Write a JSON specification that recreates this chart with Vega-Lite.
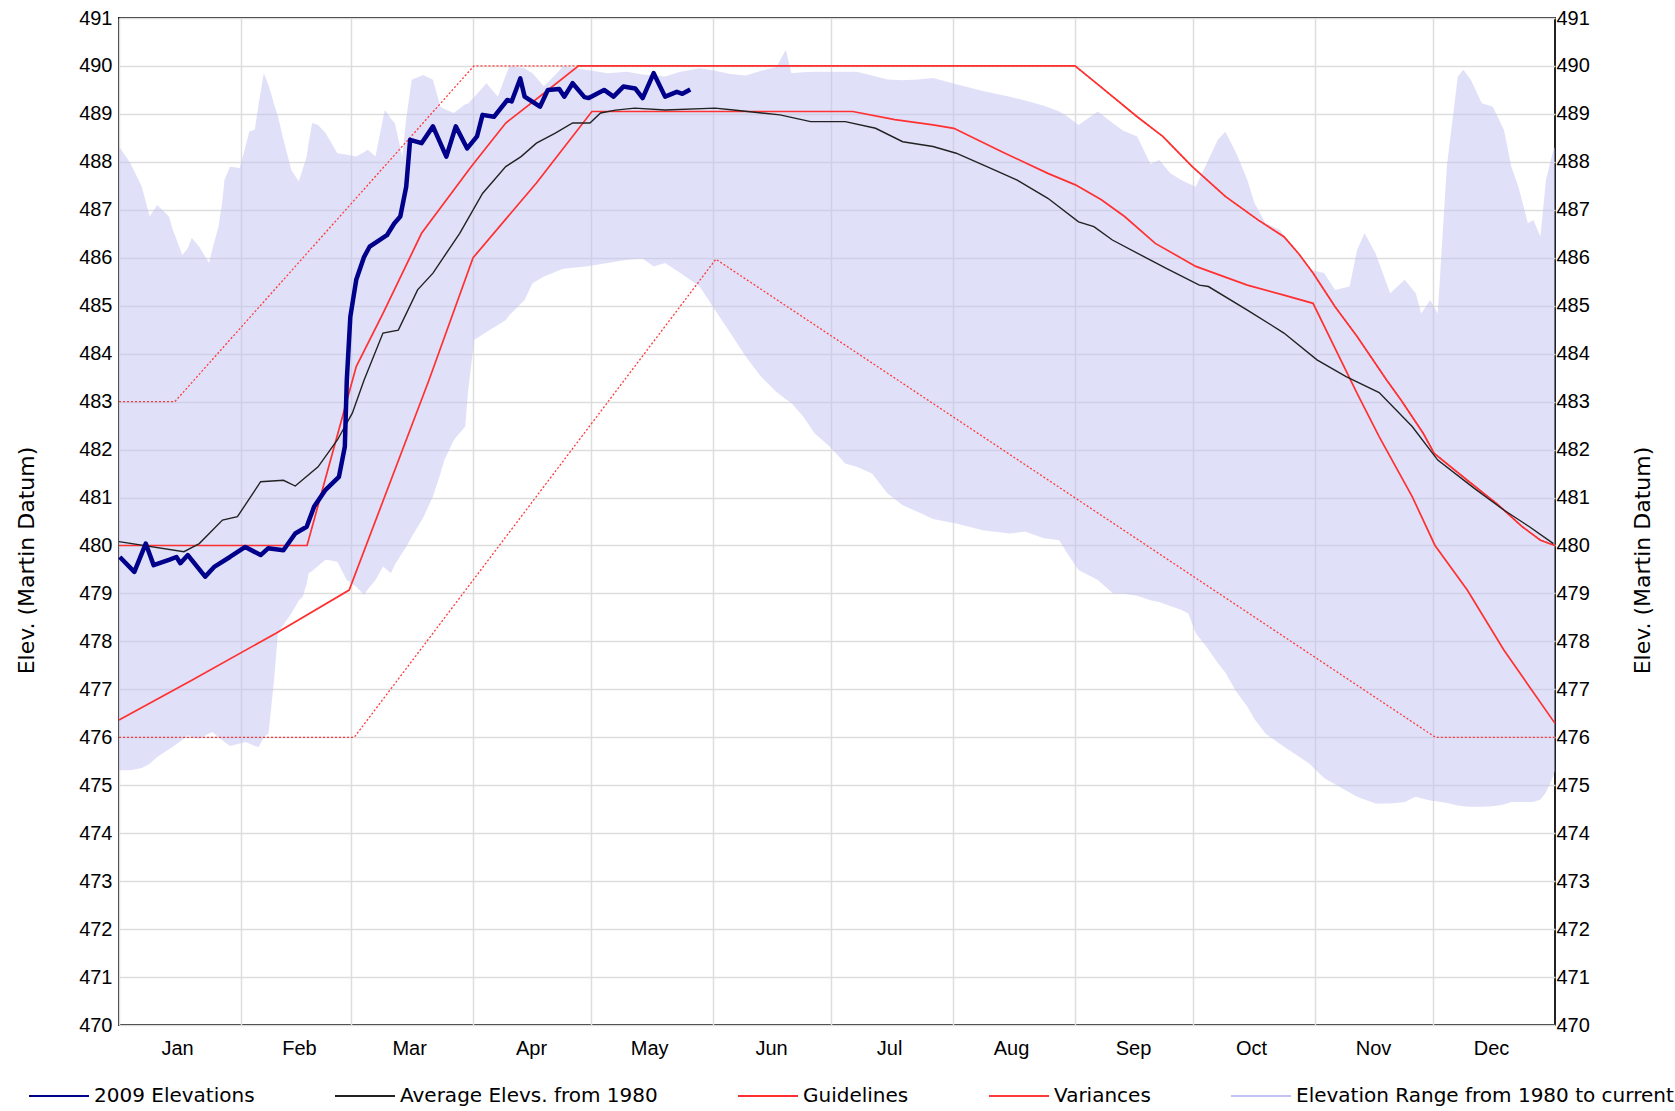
{
  "$schema": "https://vega.github.io/schema/vega-lite/v6.json",
  "width": 1436,
  "height": 1007,
  "autosize": {"type": "none"},
  "padding": {"left": 119, "top": 18, "right": 120, "bottom": 86},
  "background": "white",
  "config": {
    "view": {"stroke": "#222222", "strokeWidth": 2},
    "axis": {
      "labelFont": "Liberation Sans", "labelFontSize": 20, "labelColor": "#000000",
      "titleFont": "DejaVu Sans", "titleFontSize": 22, "titleFontWeight": "normal", "titleColor": "#000000",
      "gridColor": "#dddddd", "gridWidth": 1.5, "ticks": false, "domain": false,
      "labelFlush": false, "labelBound": false, "labelOverlap": false
    }
  },
  "datasets": {
    "range": [
      {"d":0,"lo":475.31,"hi":488.32},{"d":2.9,"lo":475.31,"hi":487.97},{"d":5.8,"lo":475.36,"hi":487.48},
      {"d":7.8,"lo":475.45,"hi":486.86},{"d":9.7,"lo":475.59,"hi":487.1},{"d":12.7,"lo":475.75,"hi":486.86},
      {"d":13.6,"lo":475.8,"hi":486.6},{"d":16.1,"lo":475.95,"hi":486.06},{"d":17.5,"lo":476.04,"hi":486.2},
      {"d":18.5,"lo":476,"hi":486.41},{"d":20.4,"lo":475.97,"hi":486.23},{"d":22.9,"lo":476.08,"hi":485.89},
      {"d":23.8,"lo":476.11,"hi":486.2},{"d":25.3,"lo":476,"hi":486.65},{"d":26.3,"lo":475.94,"hi":487.2},
      {"d":26.8,"lo":475.9,"hi":487.62},{"d":28.2,"lo":475.82,"hi":487.9},{"d":30.7,"lo":475.87,"hi":487.87},
      {"d":32.1,"lo":475.9,"hi":488.3},{"d":33.1,"lo":475.87,"hi":488.63},{"d":34.5,"lo":475.82,"hi":488.67},
      {"d":35.5,"lo":475.8,"hi":489.2},{"d":36.8,"lo":476,"hi":489.85},{"d":38,"lo":476.08,"hi":489.6},
      {"d":38.9,"lo":476.8,"hi":489.36},{"d":39.4,"lo":477.19,"hi":489.2},{"d":40.4,"lo":478.17,"hi":488.95},
      {"d":41.8,"lo":478.35,"hi":488.46},{"d":43.8,"lo":478.58,"hi":487.83},{"d":45.7,"lo":478.85,"hi":487.59},
      {"d":46.7,"lo":478.93,"hi":487.85},{"d":47.7,"lo":479.2,"hi":488.11},{"d":48.2,"lo":479.42,"hi":488.4},
      {"d":49.1,"lo":479.47,"hi":488.81},{"d":50.6,"lo":479.57,"hi":488.77},{"d":52.5,"lo":479.7,"hi":488.6},
      {"d":53.5,"lo":479.69,"hi":488.46},{"d":55.5,"lo":479.66,"hi":488.18},{"d":57.9,"lo":479.28,"hi":488.15},
      {"d":60.3,"lo":479.14,"hi":488.11},{"d":62.3,"lo":478.97,"hi":488.2},{"d":63.2,"lo":479.08,"hi":488.25},
      {"d":65.2,"lo":479.28,"hi":488.11},{"d":67.1,"lo":479.56,"hi":488.9},{"d":67.6,"lo":479.53,"hi":489.08},
      {"d":69.1,"lo":479.42,"hi":488.9},{"d":70.1,"lo":479.6,"hi":488.81},{"d":72,"lo":479.85,"hi":488.11},
      {"d":73,"lo":479.97,"hi":488.9},{"d":74.4,"lo":480.18,"hi":489.71},{"d":77.3,"lo":480.58,"hi":489.81},
      {"d":79.8,"lo":481.02,"hi":489.71},{"d":81.7,"lo":481.5,"hi":489.15},{"d":82.7,"lo":481.78,"hi":489.1},
      {"d":85.1,"lo":482.2,"hi":489.02},{"d":88,"lo":482.48,"hi":489.2},{"d":88.7,"lo":483.2,"hi":489.21},
      {"d":90.3,"lo":484.29,"hi":489.35},{"d":93.4,"lo":484.45,"hi":489.64},{"d":96.3,"lo":484.6,"hi":489.36},
      {"d":98.3,"lo":484.7,"hi":489.8},{"d":99.2,"lo":484.8,"hi":489.99},{"d":103.1,"lo":485.12,"hi":489.95},
      {"d":105.1,"lo":485.47,"hi":489.85},{"d":108,"lo":485.61,"hi":489.57},{"d":112.9,"lo":485.77,"hi":489.99},
      {"d":118.7,"lo":485.82,"hi":489.92},{"d":124.2,"lo":485.89,"hi":489.85},{"d":129.1,"lo":485.96,"hi":489.88},
      {"d":133,"lo":485.99,"hi":489.82},{"d":135.9,"lo":485.82,"hi":489.8},{"d":138.8,"lo":485.89,"hi":489.78},
      {"d":142.7,"lo":485.68,"hi":489.88},{"d":147.6,"lo":485.4,"hi":489.95},{"d":151.5,"lo":484.91,"hi":489.9},
      {"d":155.4,"lo":484.43,"hi":489.83},{"d":159.3,"lo":483.94,"hi":489.8},{"d":163.2,"lo":483.52,"hi":489.9},
      {"d":167.1,"lo":483.2,"hi":489.98},{"d":169.5,"lo":483.05,"hi":490.34},{"d":170.9,"lo":482.97,"hi":489.85},
      {"d":173.9,"lo":482.69,"hi":489.87},{"d":176.8,"lo":482.34,"hi":489.88},{"d":180.7,"lo":482.06,"hi":489.88},
      {"d":184.6,"lo":481.71,"hi":489.88},{"d":187.5,"lo":481.64,"hi":489.88},{"d":191.4,"lo":481.5,"hi":489.8},
      {"d":195.3,"lo":481.09,"hi":489.72},{"d":199.2,"lo":480.84,"hi":489.7},{"d":203.1,"lo":480.7,"hi":489.72},
      {"d":206.9,"lo":480.55,"hi":489.75},{"d":212.8,"lo":480.46,"hi":489.62},{"d":219.6,"lo":480.32,"hi":489.48},
      {"d":226.4,"lo":480.25,"hi":489.36},{"d":230.3,"lo":480.29,"hi":489.28},{"d":235.1,"lo":480.15,"hi":489.17},
      {"d":239,"lo":480.11,"hi":489.05},{"d":241,"lo":479.84,"hi":488.95},{"d":243.9,"lo":479.49,"hi":488.77},
      {"d":248.8,"lo":479.28,"hi":489.05},{"d":252.7,"lo":479,"hi":488.8},{"d":255.3,"lo":479,"hi":488.65},
      {"d":258.8,"lo":478.95,"hi":488.53},{"d":262.2,"lo":478.86,"hi":487.95},{"d":264.4,"lo":478.82,"hi":488.04},
      {"d":267.2,"lo":478.74,"hi":487.76},{"d":270,"lo":478.66,"hi":487.62},{"d":271.8,"lo":478.58,"hi":487.55},
      {"d":273.7,"lo":478.17,"hi":487.48},{"d":276.5,"lo":477.88,"hi":487.97},{"d":279.3,"lo":477.55,"hi":488.46},
      {"d":281.2,"lo":477.35,"hi":488.63},{"d":284,"lo":476.95,"hi":488.18},{"d":286.8,"lo":476.64,"hi":487.62},
      {"d":288.6,"lo":476.38,"hi":487.14},{"d":291.4,"lo":476.08,"hi":486.72},{"d":295.1,"lo":475.86,"hi":486.58},
      {"d":298.9,"lo":475.65,"hi":486.16},{"d":302.6,"lo":475.45,"hi":485.75},{"d":306.3,"lo":475.15,"hi":485.68},
      {"d":309.1,"lo":475.02,"hi":485.33},{"d":312.8,"lo":474.85,"hi":485.4},{"d":314.7,"lo":474.76,"hi":486.16},
      {"d":316.6,"lo":474.7,"hi":486.51},{"d":319.4,"lo":474.62,"hi":486.09},{"d":323.1,"lo":474.62,"hi":485.26},
      {"d":326.8,"lo":474.65,"hi":485.54},{"d":329.6,"lo":474.76,"hi":485.26},{"d":331,"lo":474.73,"hi":484.84},
      {"d":333.3,"lo":474.68,"hi":485.12},{"d":335.2,"lo":474.66,"hi":484.84},{"d":337.5,"lo":474.63,"hi":487.9},
      {"d":340.3,"lo":474.58,"hi":489.78},{"d":341.7,"lo":474.56,"hi":489.92},{"d":343.6,"lo":474.55,"hi":489.71},
      {"d":346.4,"lo":474.55,"hi":489.22},{"d":349.2,"lo":474.56,"hi":489.15},{"d":352,"lo":474.6,"hi":488.67},
      {"d":353.9,"lo":474.65,"hi":487.9},{"d":355.7,"lo":474.65,"hi":487.48},{"d":358.1,"lo":474.65,"hi":486.72},
      {"d":359.5,"lo":474.65,"hi":486.79},{"d":361.3,"lo":474.7,"hi":486.44},{"d":362.7,"lo":474.85,"hi":487.62},
      {"d":364.6,"lo":475.2,"hi":488.25},{"d":365,"lo":475.3,"hi":488.3}
    ],
    "variances": [
      {"g":"upper","d":0,"v":483},{"g":"upper","d":14.2,"v":483},{"g":"upper","d":90.2,"v":490},{"g":"upper","d":243,"v":490},
      {"g":"upper","d":248.4,"v":489.64},{"g":"upper","d":258.8,"v":488.94},{"g":"upper","d":265.3,"v":488.53},
      {"g":"upper","d":272.8,"v":487.9},{"g":"upper","d":281.2,"v":487.28},{"g":"upper","d":289.5,"v":486.79},
      {"g":"upper","d":296.1,"v":486.44},{"g":"upper","d":299.8,"v":486.09},{"g":"upper","d":303.5,"v":485.68},
      {"g":"upper","d":309.1,"v":484.98},{"g":"upper","d":314.7,"v":484.36},{"g":"upper","d":322.2,"v":483.45},
      {"g":"upper","d":325.9,"v":483.03},{"g":"upper","d":331.5,"v":482.34},{"g":"upper","d":334.3,"v":481.92},
      {"g":"upper","d":342.7,"v":481.36},{"g":"upper","d":350.1,"v":480.88},{"g":"upper","d":356.7,"v":480.39},
      {"g":"upper","d":361.3,"v":480.11},{"g":"upper","d":365,"v":480},
      {"g":"lower","d":0,"v":476},{"g":"lower","d":59.8,"v":476},{"g":"lower","d":151.7,"v":485.97},
      {"g":"lower","d":334.6,"v":476},{"g":"lower","d":365,"v":476}
    ],
    "guidelines": [
      {"g":"upper","d":0,"v":480},{"g":"upper","d":47.8,"v":480},{"g":"upper","d":60.3,"v":483.73},
      {"g":"upper","d":67.1,"v":484.84},{"g":"upper","d":76.9,"v":486.51},{"g":"upper","d":89.5,"v":487.9},
      {"g":"upper","d":98.3,"v":488.81},{"g":"upper","d":108,"v":489.43},{"g":"upper","d":116.8,"v":490},
      {"g":"upper","d":243,"v":490},{"g":"upper","d":248.4,"v":489.64},{"g":"upper","d":258.8,"v":488.94},
      {"g":"upper","d":265.3,"v":488.53},{"g":"upper","d":272.8,"v":487.9},{"g":"upper","d":281.2,"v":487.28},
      {"g":"upper","d":289.5,"v":486.79},{"g":"upper","d":296.1,"v":486.44},{"g":"upper","d":299.8,"v":486.09},
      {"g":"upper","d":303.5,"v":485.68},{"g":"upper","d":309.1,"v":484.98},{"g":"upper","d":314.7,"v":484.36},
      {"g":"upper","d":322.2,"v":483.45},{"g":"upper","d":325.9,"v":483.03},{"g":"upper","d":331.5,"v":482.34},
      {"g":"upper","d":334.3,"v":481.92},{"g":"upper","d":342.7,"v":481.36},{"g":"upper","d":350.1,"v":480.88},
      {"g":"upper","d":356.7,"v":480.39},{"g":"upper","d":361.3,"v":480.11},{"g":"upper","d":365,"v":480},
      {"g":"lower","d":0,"v":476.36},{"g":"lower","d":18.5,"v":477.19},{"g":"lower","d":39.9,"v":478.17},
      {"g":"lower","d":58.5,"v":479.07},{"g":"lower","d":78.8,"v":483.45},{"g":"lower","d":90,"v":486},
      {"g":"lower","d":106.1,"v":487.56},{"g":"lower","d":120.2,"v":489.05},{"g":"lower","d":186.5,"v":489.05},
      {"g":"lower","d":197.2,"v":488.88},{"g":"lower","d":206.9,"v":488.77},{"g":"lower","d":212.2,"v":488.7},
      {"g":"lower","d":224.4,"v":488.21},{"g":"lower","d":236.1,"v":487.76},{"g":"lower","d":243.1,"v":487.52},
      {"g":"lower","d":249.7,"v":487.21},{"g":"lower","d":255.6,"v":486.86},{"g":"lower","d":263.4,"v":486.3},
      {"g":"lower","d":273.7,"v":485.82},{"g":"lower","d":286.8,"v":485.43},{"g":"lower","d":296.1,"v":485.22},
      {"g":"lower","d":303.5,"v":485.05},{"g":"lower","d":314.7,"v":483.17},{"g":"lower","d":320.3,"v":482.27},
      {"g":"lower","d":328.7,"v":481.02},{"g":"lower","d":334.5,"v":480},{"g":"lower","d":342.7,"v":479.07},
      {"g":"lower","d":352,"v":477.82},{"g":"lower","d":365,"v":476.29}
    ],
    "average": [
      {"d":0,"v":480.08},{"d":16.5,"v":479.87},{"d":20.4,"v":480.04},{"d":26.3,"v":480.53},{"d":30.1,"v":480.6},
      {"d":36,"v":481.33},{"d":41.8,"v":481.36},{"d":44.8,"v":481.24},{"d":50.6,"v":481.64},{"d":55.5,"v":482.2},
      {"d":59.3,"v":482.76},{"d":62.3,"v":483.45},{"d":67.1,"v":484.43},{"d":71,"v":484.49},{"d":75.9,"v":485.33},
      {"d":79.8,"v":485.68},{"d":86.6,"v":486.51},{"d":92.4,"v":487.34},{"d":98.3,"v":487.9},{"d":102.2,"v":488.11},
      {"d":106.1,"v":488.39},{"d":110.9,"v":488.6},{"d":115.3,"v":488.81},{"d":119.7,"v":488.81},{"d":122.4,"v":489.02},
      {"d":126.2,"v":489.08},{"d":131.1,"v":489.12},{"d":138.8,"v":489.08},{"d":151.5,"v":489.12},{"d":156.2,"v":489.08},
      {"d":168,"v":488.98},{"d":175.8,"v":488.84},{"d":184.6,"v":488.84},{"d":192.3,"v":488.7},{"d":199.2,"v":488.42},
      {"d":206.9,"v":488.32},{"d":212.8,"v":488.18},{"d":220.6,"v":487.9},{"d":228.3,"v":487.62},{"d":236.1,"v":487.24},
      {"d":243.9,"v":486.75},{"d":247.8,"v":486.65},{"d":252.5,"v":486.37},{"d":262.2,"v":485.95},{"d":266.2,"v":485.78},
      {"d":274.6,"v":485.43},{"d":276.9,"v":485.4},{"d":286.8,"v":484.91},{"d":296.1,"v":484.43},{"d":304.5,"v":483.87},
      {"d":311.9,"v":483.52},{"d":320.3,"v":483.19},{"d":328.7,"v":482.48},{"d":335.2,"v":481.78},{"d":344.5,"v":481.19},
      {"d":352,"v":480.74},{"d":358.5,"v":480.39},{"d":364.6,"v":480.04}
    ],
    "elev2009": [
      {"d":0.2,"v":479.76},{"d":3.9,"v":479.45},{"d":6.8,"v":480.04},{"d":8.8,"v":479.59},{"d":12.7,"v":479.7},
      {"d":14.6,"v":479.76},{"d":15.6,"v":479.63},{"d":17.5,"v":479.8},{"d":21.9,"v":479.35},{"d":24.3,"v":479.56},
      {"d":28.2,"v":479.76},{"d":32.1,"v":479.97},{"d":36,"v":479.8},{"d":37.9,"v":479.94},{"d":41.8,"v":479.9},
      {"d":44.8,"v":480.25},{"d":47.7,"v":480.39},{"d":49.6,"v":480.81},{"d":52.5,"v":481.16},{"d":55.9,"v":481.43},
      {"d":57.4,"v":482.06},{"d":57.9,"v":483.45},{"d":58.8,"v":484.77},{"d":60.3,"v":485.54},{"d":62.3,"v":486.02},
      {"d":63.7,"v":486.23},{"d":66.2,"v":486.37},{"d":68.1,"v":486.47},{"d":70,"v":486.72},{"d":71.5,"v":486.86},
      {"d":73,"v":487.48},{"d":74,"v":488.46},{"d":76.9,"v":488.39},{"d":79.8,"v":488.74},{"d":83.2,"v":488.11},
      {"d":85.6,"v":488.74},{"d":88.5,"v":488.28},{"d":91,"v":488.53},{"d":92.4,"v":488.98},{"d":95.3,"v":488.94},
      {"d":98.7,"v":489.29},{"d":99.8,"v":489.26},{"d":102,"v":489.74},{"d":103.1,"v":489.36},{"d":107,"v":489.15},
      {"d":109,"v":489.5},{"d":111.9,"v":489.52},{"d":113.2,"v":489.36},{"d":115.3,"v":489.64},{"d":118.3,"v":489.35},
      {"d":119.4,"v":489.33},{"d":123.3,"v":489.5},{"d":125.7,"v":489.36},{"d":128.2,"v":489.57},{"d":131.2,"v":489.53},
      {"d":133.1,"v":489.33},{"d":135.9,"v":489.85},{"d":138.8,"v":489.36},{"d":141.8,"v":489.46},{"d":143.2,"v":489.42},
      {"d":145.2,"v":489.51}
    ]
  },
  "encoding": {
    "x": {
      "field": "d", "type": "quantitative",
      "scale": {"domain": [0, 365], "nice": false, "zero": false},
      "axis": {
        "title": null, "grid": true,
        "values": [0, 31, 59, 90, 120, 151, 181, 212, 243, 273, 304, 334],
        "labelExpr": "['Jan','Feb','Mar','Apr','May','Jun','Jul','Aug','Sep','Oct','Nov','Dec'][indexof([0,31,59,90,120,151,181,212,243,273,304,334], datum.value)]",
        "labelAlign": "center", "labelOffset": 58, "labelPadding": 13
      }
    }
  },
  "layer": [
    {
      "data": {"name": "range"},
      "mark": {"type": "area", "fillOpacity": 0.5},
      "encoding": {
        "y": {
          "field": "lo", "type": "quantitative",
          "scale": {"domain": [470, 491], "nice": false, "zero": false},
          "axis": {
            "orient": "left", "grid": true,
            "values": [470,471,472,473,474,475,476,477,478,479,480,481,482,483,484,485,486,487,488,489,490,491],
            "title": "Elev. (Martin Datum)", "labelPadding": 7, "titlePadding": 40, "titleY": 542
          }
        },
        "y2": {"field": "hi"},
        "color": {
          "datum": "Elevation Range from 1980 to current", "type": "nominal",
          "scale": {
            "domain": ["2009 Elevations", "Average Elevs. from 1980", "Guidelines", "Variances", "Elevation Range from 1980 to current"],
            "range": ["#00008b", "#222222", "#ff3030", "#ff3a3a", "#c2c2f4"]
          },
          "legend": {
            "title": null, "orient": "none", "legendX": -91, "legendY": 1047,
            "direction": "horizontal", "columns": 5, "padding": 0,
            "symbolType": "stroke", "symbolSize": 3600, "symbolStrokeWidth": 2, "symbolOpacity": 1,
            "labelFont": "DejaVu Sans", "labelFontSize": 20, "labelColor": "#000000",
            "labelOffset": 4, "labelLimit": 600, "columnPadding": 76
          }
        }
      }
    },
    {
      "data": {"name": "variances"},
      "mark": {"type": "line", "strokeWidth": 1.3, "strokeDash": [2, 2]},
      "encoding": {
        "y": {"field": "v", "type": "quantitative", "scale": {"domain": [470, 491], "nice": false, "zero": false}, "axis": null},
        "detail": {"field": "g", "type": "nominal"},
        "color": {"datum": "Variances", "type": "nominal"}
      }
    },
    {
      "data": {"name": "guidelines"},
      "mark": {"type": "line", "strokeWidth": 1.7},
      "encoding": {
        "y": {"field": "v", "type": "quantitative", "scale": {"domain": [470, 491], "nice": false, "zero": false}, "axis": null},
        "detail": {"field": "g", "type": "nominal"},
        "color": {"datum": "Guidelines", "type": "nominal"}
      }
    },
    {
      "data": {"name": "average"},
      "mark": {"type": "line", "strokeWidth": 1.4},
      "encoding": {
        "y": {"field": "v", "type": "quantitative", "scale": {"domain": [470, 491], "nice": false, "zero": false}, "axis": null},
        "color": {"datum": "Average Elevs. from 1980", "type": "nominal"}
      }
    },
    {
      "data": {"name": "elev2009"},
      "mark": {"type": "line", "strokeWidth": 4.5, "strokeJoin": "round"},
      "encoding": {
        "y": {
          "field": "v", "type": "quantitative",
          "scale": {"domain": [470, 491], "nice": false, "zero": false},
          "axis": {
            "orient": "right", "grid": false,
            "values": [470,471,472,473,474,475,476,477,478,479,480,481,482,483,484,485,486,487,488,489,490,491],
            "title": "Elev. (Martin Datum)", "titleAngle": 270, "titleBaseline": "top",
            "labelPadding": 1, "titlePadding": 43, "titleY": 542
          }
        },
        "color": {"datum": "2009 Elevations", "type": "nominal"}
      }
    }
  ],
  "resolve": {"axis": {"y": "independent"}}
}
